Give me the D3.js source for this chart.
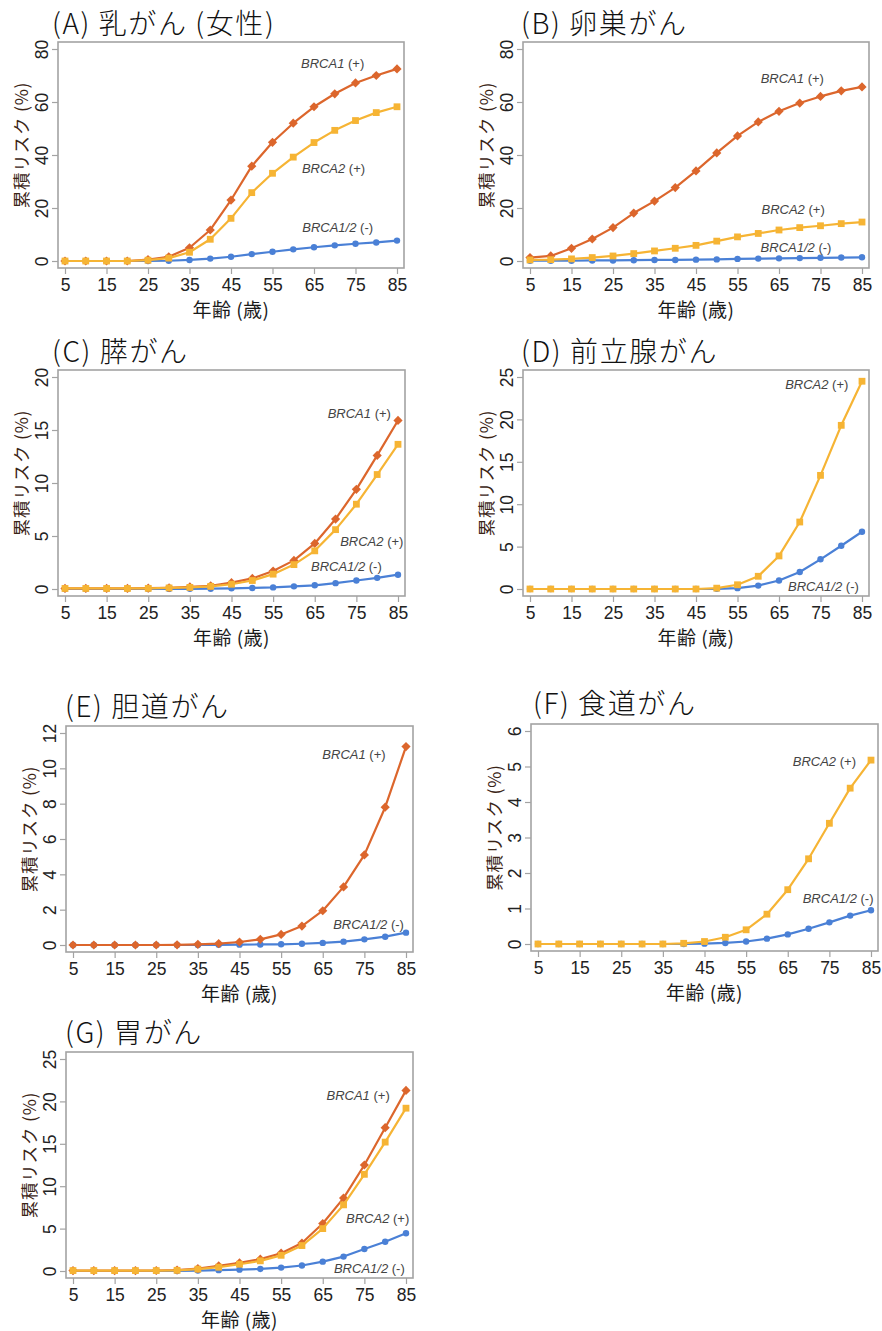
<!DOCTYPE html>
<html><head><meta charset="utf-8">
<script src="https://cdn.jsdelivr.net/npm/d3@7"></script>
<style>
html,body{margin:0;padding:0;background:#fff;}
svg{display:block;}
</style></head>
<body>
<svg id="chart" width="882" height="1331"></svg>
<script>
// ---------- data ----------
const ages = [5,10,15,20,25,30,35,40,45,50,55,60,65,70,75,80,85];
const xTickLabels = [5,15,25,35,45,55,65,75,85];

// (A) breast (female)
const breastBRCA1 = [0,0,0,0,0.5,1.6,5.0,11.7,23.0,35.8,44.8,52.0,58.2,63.1,67.2,70.0,72.5];
const breastBRCA2 = [0,0,0,0,0.3,1.1,3.3,8.2,16.1,25.8,33.1,39.2,44.7,49.3,53.0,56.0,58.2];
const breastNeg   = [0,0,0,0,0,0.1,0.4,0.9,1.6,2.6,3.5,4.4,5.2,5.9,6.5,7.0,7.7];
// (B) ovarian
const ovarianBRCA1 = [1.3,1.9,4.8,8.3,12.6,18.1,22.6,27.7,34.0,40.8,47.2,52.5,56.5,59.6,62.1,64.2,65.7];
const ovarianBRCA2 = [0.4,0.5,0.8,1.3,1.9,2.8,3.8,4.8,5.9,7.5,9.1,10.4,11.7,12.6,13.3,14.1,14.7];
const ovarianNeg   = [0.1,0.1,0.1,0.2,0.2,0.3,0.4,0.4,0.5,0.6,0.8,0.9,1.0,1.1,1.2,1.3,1.4];
// (C) pancreatic
const pancBRCA1 = [0.05,0.05,0.05,0.05,0.08,0.12,0.2,0.3,0.6,1.0,1.7,2.7,4.3,6.6,9.4,12.6,15.9];
const pancBRCA2 = [0.05,0.05,0.05,0.05,0.06,0.1,0.15,0.25,0.45,0.8,1.4,2.3,3.6,5.6,8.0,10.8,13.65];
const pancNeg   = [0,0,0,0,0,0.01,0.02,0.03,0.06,0.1,0.15,0.25,0.35,0.55,0.8,1.05,1.35];
// (D) prostate
const prostBRCA2 = [0,0,0,0,0,0,0,0,0,0.1,0.5,1.5,3.9,7.9,13.4,19.3,24.5];
const prostNeg   = [0,0,0,0,0,0,0,0,0,0.02,0.1,0.4,1.0,2.0,3.5,5.1,6.75];
// (E) biliary
const biliBRCA1 = [0,0,0,0,0,0.01,0.04,0.08,0.17,0.32,0.6,1.07,1.94,3.29,5.1,7.8,11.23];
const biliNeg   = [0,0,0,0,0,0,0,0.01,0.02,0.03,0.04,0.07,0.12,0.19,0.32,0.47,0.7];
// (F) esophageal
const esoBRCA2 = [0,0,0,0,0,0,0,0.02,0.07,0.19,0.4,0.84,1.53,2.4,3.4,4.39,5.18];
const esoNeg   = [0,0,0,0,0,0,0,0,0.01,0.03,0.07,0.15,0.27,0.43,0.61,0.8,0.95];
// (G) gastric
const gastBRCA1 = [0.05,0.05,0.05,0.05,0.06,0.12,0.27,0.6,0.95,1.4,2.1,3.3,5.6,8.6,12.5,16.9,21.3];
const gastBRCA2 = [0.05,0.05,0.05,0.05,0.05,0.08,0.22,0.45,0.8,1.2,1.85,3.0,5.0,7.8,11.4,15.2,19.2];
const gastNeg   = [0,0,0,0,0,0,0.05,0.1,0.16,0.24,0.4,0.65,1.1,1.7,2.6,3.45,4.45];

const ticks80 = [0,20,40,60,80];
const ticks20 = [0,5,10,15,20];
const ticks25 = [0,5,10,15,20,25];
const ticks12 = [0,2,4,6,8,10,12];
const ticks6  = [0,1,2,3,4,5,6];

const titles = ["(A) 乳がん (女性)","(B) 卵巣がん","(C) 膵がん","(D) 前立腺がん","(E) 胆道がん","(F) 食道がん","(G) 胃がん"];
const xTitle = "年齢 (歳)";
const yTitle = "累積リスク (%)";

// ---------- styles ----------
const seriesStyle = {
  neg: {color:"#4a80d6", shape:"circle", name:"BRCA1/2", sign:" (-)"},
  b1:  {color:"#dc662c", shape:"diamond", name:"BRCA1", sign:" (+)"},
  b2:  {color:"#f6b434", shape:"square", name:"BRCA2", sign:" (+)"}
};

// layout: box [left, top, right, bottom]; labels placed in data coords (age, value)
const panels = [
  {title:titles[0], box:[58,42,404,268], tx:52, ty:34, yMax:80, yTicks:ticks80,
   series:[["neg",breastNeg],["b1",breastBRCA1],["b2",breastBRCA2]],
   labels:[["b1",69.5,74.7],["b2",69.7,35.1],["neg",70.7,12.8]]},
  {title:titles[1], box:[523,42,869,268], tx:521, ty:34, yMax:80, yTicks:ticks80,
   series:[["neg",ovarianNeg],["b1",ovarianBRCA1],["b2",ovarianBRCA2]],
   labels:[["b1",68.2,68.9],["b2",68.4,19.5],["neg",69.1,5.4]]},
  {title:titles[2], box:[58,370,405,596], tx:52, ty:362, yMax:20, yTicks:ticks20,
   series:[["neg",pancNeg],["b1",pancBRCA1],["b2",pancBRCA2]],
   labels:[["b1",75.7,16.6],["b2",78.7,4.57],["neg",72.6,2.19]]},
  {title:titles[3], box:[523,370,869,596], tx:521, ty:362, yMax:25, yTicks:ticks25,
   series:[["neg",prostNeg],["b2",prostBRCA2]],
   labels:[["b2",74.1,24.2],["neg",75.7,0.31]]},
  {title:titles[4], box:[66,726,413,952], tx:65, ty:717, yMax:12, yTicks:ticks12,
   series:[["neg",biliNeg],["b1",biliBRCA1]],
   labels:[["b1",72.5,10.8],["neg",76.0,1.2]]},
  {title:titles[5], box:[531,724,878,951], tx:533, ty:714, yMax:6, yTicks:ticks6,
   series:[["neg",esoNeg],["b2",esoBRCA2]],
   labels:[["b2",73.8,5.16],["neg",77.1,1.29]]},
  {title:titles[6], box:[66,1052,413,1278], tx:65, ty:1043, yMax:25, yTicks:ticks25,
   series:[["neg",gastNeg],["b1",gastBRCA1],["b2",gastBRCA2]],
   labels:[["b1",73.5,20.8],["b2",78.2,6.27],["neg",76.2,0.31]]}
];

const svg = d3.select("#chart");
const pad = 7;
const latin = "'Liberation Sans', Arial, 'Noto Sans CJK JP', sans-serif";
const titleFont = "'Noto Sans CJK JP', 'Noto Sans', sans-serif";

function marker(sel, shape, color){
  if(shape==="circle"){
    sel.append("circle").attr("r",3.2).attr("fill",color);
  } else if(shape==="square"){
    sel.append("rect").attr("x",-3.4).attr("y",-3.4).attr("width",6.8).attr("height",6.8).attr("fill",color);
  } else {
    sel.append("path").attr("d","M0,-4.6L4.6,0L0,4.6L-4.6,0Z").attr("fill",color);
  }
}

panels.forEach(p => {
  const [L,T,R,B] = p.box;
  const x = d3.scaleLinear().domain([5,85]).range([L+pad, R-pad]);
  const y = d3.scaleLinear().domain([0,p.yMax]).range([B-pad, T+pad]);
  const g = svg.append("g");

  // title
  g.append("text").attr("x",p.tx).attr("y",p.ty)
    .attr("font-family",titleFont).attr("font-size",28).attr("font-weight",300)
    .attr("letter-spacing",1.6).attr("fill","#111")
    .text(p.title);

  // box
  g.append("rect").attr("x",L).attr("y",T).attr("width",R-L).attr("height",B-T)
    .attr("fill","none").attr("stroke","#a3a3a3").attr("stroke-width",1.6);

  // x axis
  const xa = g.append("g").attr("transform",`translate(0,${B})`)
    .call(d3.axisBottom(x).tickValues(xTickLabels).tickFormat(d3.format("d")).tickSize(6).tickSizeOuter(0));
  xa.select(".domain").remove();
  xa.selectAll(".tick line").attr("stroke","#a3a3a3").attr("stroke-width",1.2);
  xa.selectAll(".tick text").attr("font-family",latin).attr("font-size",17.5).attr("fill","#222")
    .attr("y",17).attr("dy","0.35em");

  // y axis
  const ya = g.append("g").attr("transform",`translate(${L},0)`)
    .call(d3.axisLeft(y).tickValues(p.yTicks).tickFormat(d3.format("d")).tickSize(6).tickSizeOuter(0));
  ya.select(".domain").remove();
  ya.selectAll(".tick line").attr("stroke","#a3a3a3").attr("stroke-width",1.2);
  ya.selectAll(".tick text").attr("font-family",latin).attr("font-size",17.5).attr("fill","#222")
    .attr("x",null).attr("dy",null)
    .attr("text-anchor","middle").attr("dominant-baseline","central")
    .attr("transform","translate(-16,0) rotate(-90)");

  // axis titles
  g.append("text").attr("x",(L+R)/2).attr("y",B+40)
    .attr("text-anchor","middle").attr("dominant-baseline","central")
    .attr("font-family",titleFont).attr("font-size",19).attr("letter-spacing",0.5).attr("fill","#1a1a1a")
    .text(xTitle);
  g.append("text")
    .attr("transform",`translate(${L-38},${(T+B)/2-10}) rotate(-90)`)
    .attr("text-anchor","middle").attr("dominant-baseline","central")
    .attr("font-family",titleFont).attr("font-size",17.5).attr("letter-spacing",0.8).attr("fill","#3a2416")
    .text(yTitle);

  // series
  const line = d3.line().x((d,i)=>x(ages[i])).y(d=>y(d));
  p.series.forEach(([key, vals]) => {
    const st = seriesStyle[key];
    g.append("path").datum(vals).attr("d",line)
      .attr("fill","none").attr("stroke",st.color).attr("stroke-width",2.2)
      .attr("stroke-linejoin","round");
    g.selectAll(null).data(vals).join("g")
      .attr("transform",(d,i)=>`translate(${x(ages[i])},${y(d)})`)
      .each(function(){ marker(d3.select(this), st.shape, st.color); });
  });

  // labels
  p.labels.forEach(([key, ax, av]) => {
    const st = seriesStyle[key];
    const t = g.append("text").attr("x",x(ax)).attr("y",y(av))
      .attr("text-anchor","middle").attr("dominant-baseline","central")
      .attr("font-family",latin).attr("font-size",13).attr("fill","#444")
      .style("white-space","pre");
    t.append("tspan").attr("font-style","italic").text(st.name);
    t.append("tspan").text(st.sign);
  });
});
</script>
</body></html>
